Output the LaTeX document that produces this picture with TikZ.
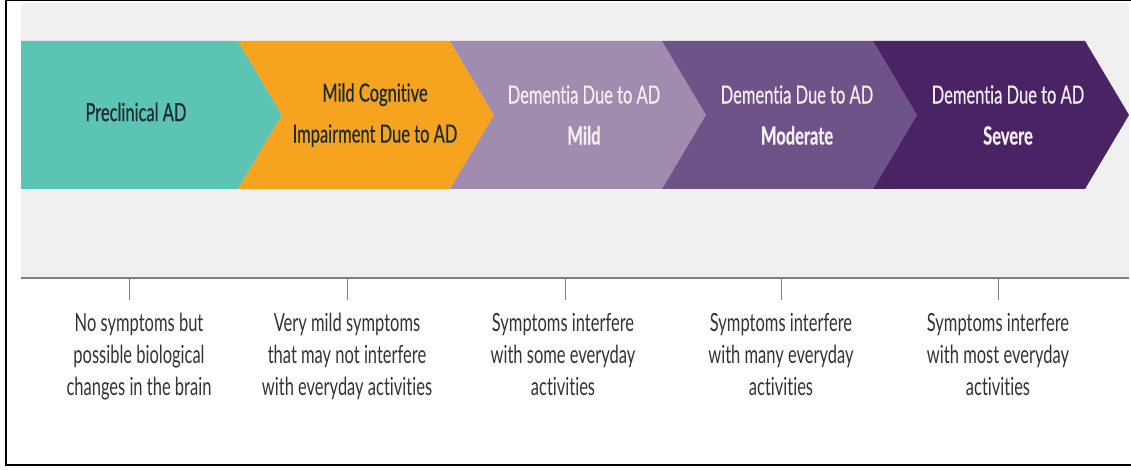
\documentclass[tikz,border=0pt]{standalone}
\usepackage{fontspec}
\setmainfont[FakeStretch=0.66,Ligatures=NoCommon]{Lato}
\newfontfamily\stagefont[FakeStretch=0.66,FakeBold=0.5,Ligatures=NoCommon]{Lato}

\definecolor{adteal}{HTML}{5BC4B5}
\definecolor{adorange}{HTML}{F6A31F}
\definecolor{admild}{HTML}{A08CAE}
\definecolor{admoderate}{HTML}{6D5387}
\definecolor{adsevere}{HTML}{4A2364}
\definecolor{panelgrey}{HTML}{F0F0F0}
\definecolor{axisgrey}{HTML}{7F7F7F}
\definecolor{headdark}{HTML}{1C2B2B}
\definecolor{headlight}{HTML}{F3EEF4}
\definecolor{notegrey}{HTML}{333333}

\begin{document}
\begin{tikzpicture}[x=1pt,y=1pt,
  heading/.style={align=center,inner sep=0pt,font=\stagefont\fontsize{25}{41}\selectfont},
  note/.style={align=center,inner sep=0pt,anchor=north,text=notegrey,font=\fontsize{25}{32}\selectfont}]

    \useasboundingbox (0,0) rectangle (1131,470);

    % frame and grey panel
    \fill[panelgrey] (21,192) rectangle (1129,467);
    \draw[line width=2] (1131,470) -- (6,470);
    \draw[line width=2.5] (6,470) -- (6,5) -- (1131,5);

    % stage chevrons
    \fill[adteal] (21,429) -- (238,429) -- (282,355) -- (238,281) -- (21,281) -- cycle;
    \fill[adorange] (238,429) -- (450,429) -- (494,355) -- (450,281) -- (238,281) -- (282,355) -- cycle;
    \fill[admild] (450,429) -- (662,429) -- (706,355) -- (662,281) -- (450,281) -- (494,355) -- cycle;
    \fill[admoderate] (662,429) -- (873,429) -- (917,355) -- (873,281) -- (662,281) -- (706,355) -- cycle;
    \fill[adsevere] (873,429) -- (1085,429) -- (1129,355) -- (1085,281) -- (873,281) -- (917,355) -- cycle;

    \node[heading,text=headdark] (pre) at (136,358) {Preclinical AD};
    \node[heading,text=headdark] (mci) at (375,355) {Mild Cognitive\\Impairment Due to AD};
    \node[heading,text=headlight] (mild) at (584,355) {Dementia Due to AD\\\textbf{Mild}};
    \node[heading,text=headlight] (moderate) at (797,355) {Dementia Due to AD\\\textbf{Moderate}};
    \node[heading,text=headlight] (severe) at (1008,355) {Dementia Due to AD\\\textbf{Severe}};

    % time line with ticks
    \draw[axisgrey,line width=1.5] (21,192) -- (1129,192);
    \coordinate (t1) at (129,192);
    \coordinate (t2) at (347,192);
    \coordinate (t3) at (565,192);
    \coordinate (t4) at (781,192);
    \coordinate (t5) at (998,192);
    \draw[axisgrey,line width=0.8] (t1) -- ++(0,-22);
    \draw[axisgrey,line width=0.8] (t2) -- ++(0,-22);
    \draw[axisgrey,line width=0.8] (t3) -- ++(0,-22);
    \draw[axisgrey,line width=0.8] (t4) -- ++(0,-22);
    \draw[axisgrey,line width=0.8] (t5) -- ++(0,-22);

    \node[note] (n1) at (139,157) {No symptoms but\\possible biological\\changes in the brain};
    \node[note] (n2) at (347,157) {Very mild symptoms\\that may not interfere\\with everyday activities};
    \node[note] (n3) at (563,157) {Symptoms interfere\\with some everyday\\activities};
    \node[note] (n4) at (781,157) {Symptoms interfere\\with many everyday\\activities};
    \node[note] (n5) at (998,157) {Symptoms interfere\\with most everyday\\activities};

\end{tikzpicture}
\end{document}
